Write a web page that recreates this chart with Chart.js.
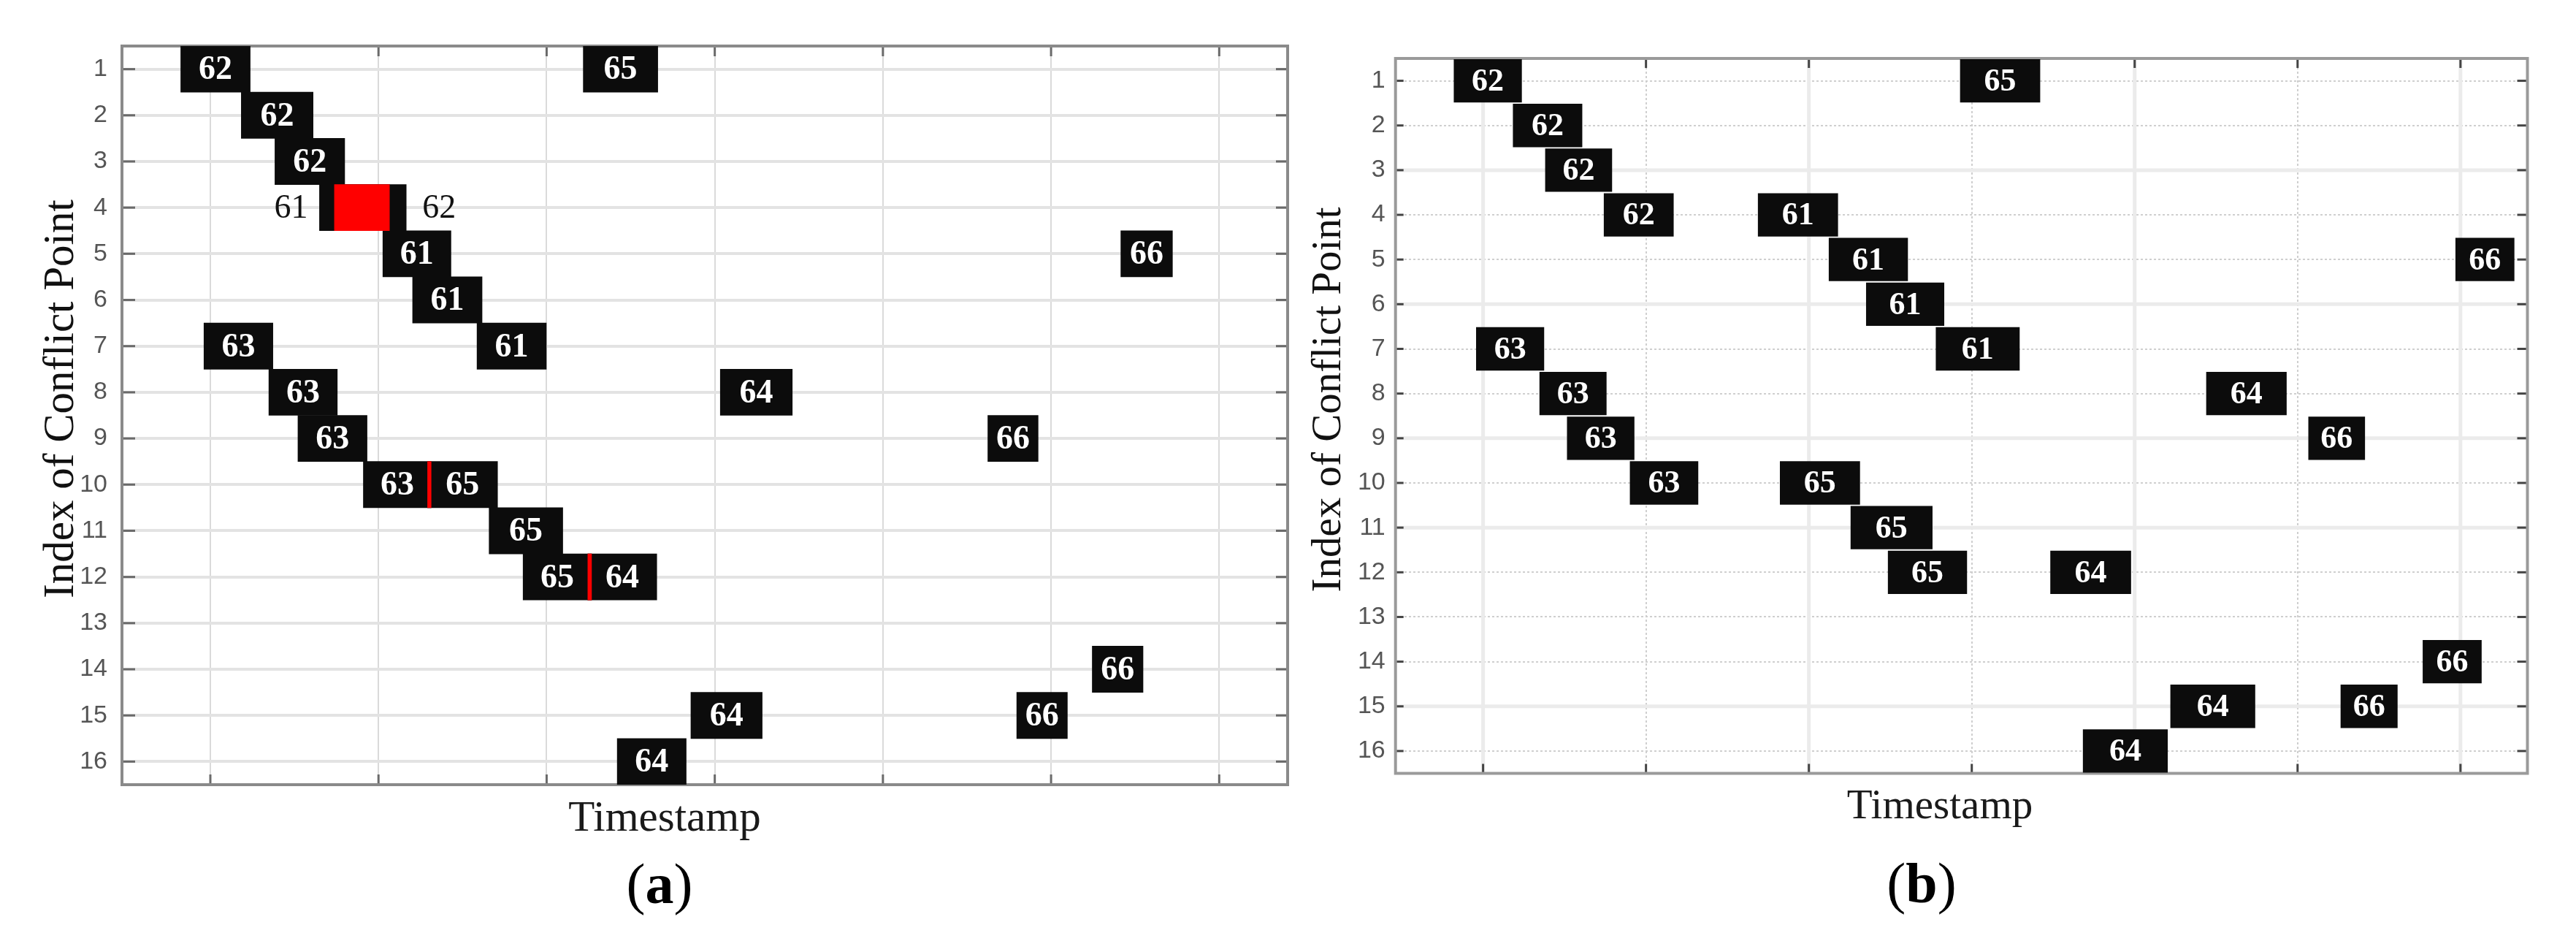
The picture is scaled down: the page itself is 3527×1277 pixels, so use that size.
<!DOCTYPE html>
<html><head><meta charset="utf-8">
<script src="https://cdn.jsdelivr.net/npm/chart.js@4/dist/chart.umd.min.js"></script>
<style>
html,body{margin:0;padding:0;background:#fff;}
#wrap{position:relative;width:3527px;height:1277px;overflow:hidden;background:#fff;}
.pane{position:absolute;top:0;height:1277px;}
#pa{left:0;width:1790px;}
#pb{left:1770px;width:1757px;}
canvas{display:block;}
</style></head><body>
<div id="wrap">
<div class="pane" id="pa"><canvas id="ca" width="1790" height="1277"></canvas></div>
<div class="pane" id="pb"><canvas id="cb" width="1757" height="1277"></canvas></div>
</div>
<script>
// ---------- shared categories / ticks ----------
const conflictPoints = ['1','2','3','4','5','6','7','8','9','10','11','12','13','14','15','16'];
const timeGrid = [10, 20, 30, 40, 50, 60, 70];

// ---------- panel (a) ----------
const aRow     = [1, 1, 2, 3, 4, 4, 5, 5, 6, 7, 7, 8, 8, 9, 9, 10, 10, 11, 12, 12, 14, 15, 15, 16];
const aVehicle = ['62','65','62','62','61','62','61','66','61','63','61','63','64','63','66','63','65','65','65','64','66','64','66','64'];
const aStart   = [8.24, 32.18, 11.84, 13.84, 16.49, 17.38, 20.26, 64.15, 22.03, 9.62, 25.86, 13.48, 40.33, 15.21, 56.24, 19.10, 22.92, 26.58, 28.60, 32.45, 62.45, 38.58, 57.96, 34.20];
const aEnd     = [12.37, 36.61, 16.11, 17.99, 20.65, 21.65, 24.31, 67.22, 26.16, 13.72, 29.98, 17.55, 44.61, 19.32, 59.23, 23.13, 27.08, 30.96, 32.67, 36.55, 65.47, 42.82, 60.97, 38.30];
const aLabelAt = ['in','in','in','in','left','right','in','in','in','in','in','in','in','in','in','in','in','in','in','in','in','in','in','in'];
const aConflictRow   = [4, 10, 12];
const aConflictStart = [17.38, 22.92, 32.45];
const aConflictEnd   = [20.65, 23.13, 32.67];

// ---------- panel (b) ----------
const bRow     = [1, 1, 2, 3, 4, 4, 5, 5, 6, 7, 7, 8, 8, 9, 9, 10, 10, 11, 12, 12, 14, 15, 15, 16];
const bVehicle = ['62','65','62','62','62','61','61','66','61','63','61','63','64','63','66','63','65','65','65','64','66','64','66','64'];
const bStart   = [8.20, 39.28, 11.83, 13.81, 17.41, 26.87, 31.22, 69.69, 33.51, 9.57, 37.79, 13.46, 54.39, 15.15, 60.66, 19.01, 28.22, 32.56, 34.85, 44.82, 67.68, 52.19, 62.64, 46.82];
const bEnd     = [12.38, 44.20, 16.09, 17.92, 21.70, 31.79, 36.08, 73.31, 38.31, 13.75, 42.94, 17.58, 59.33, 19.29, 64.14, 23.21, 33.14, 37.59, 39.71, 49.78, 71.30, 57.40, 66.14, 52.03];
const bLabelAt = bRow.map(() => 'in');
const bConflictRow = [], bConflictStart = [], bConflictEnd = [];

const solidRowsB = [3, 6, 9, 11, 15];
const solidTimesB = [10, 30, 50, 70];

function toBars(rows, s, e) {
  return rows.map((r, i) => ({ x: [s[i], e[i]], y: String(r) }));
}

function makePanel(cfg) {
  const canvas = document.getElementById(cfg.id);
  const ox = cfg.offsetX;

  const decorPlugin = {
    id: 'decor_' + cfg.id,
    beforeDatasetsDraw(chart) {
      const ctx = chart.ctx;
      const ca = chart.chartArea;
      const xs = chart.scales.x, ys = chart.scales.y;
      ctx.save();
      if (cfg.solidRows) {
        ctx.strokeStyle = '#ebebeb';
        ctx.lineWidth = 5;
        ctx.setLineDash([]);
        cfg.solidRows.forEach(r => {
          const py = ys.getPixelForValue(conflictPoints.indexOf(String(r)));
          ctx.beginPath(); ctx.moveTo(ca.left, py); ctx.lineTo(ca.right, py); ctx.stroke();
        });
        cfg.solidTimes.forEach(t => {
          const px = xs.getPixelForValue(t);
          ctx.beginPath(); ctx.moveTo(px, ca.top); ctx.lineTo(px, ca.bottom); ctx.stroke();
        });
      }
      // inward tick marks
      ctx.strokeStyle = cfg.tickColor;
      ctx.lineWidth = 3;
      ys.ticks.forEach((t, i) => {
        const py = ys.getPixelForTick(i);
        ctx.beginPath(); ctx.moveTo(ca.left, py); ctx.lineTo(ca.left + cfg.tickL, py); ctx.stroke();
        ctx.beginPath(); ctx.moveTo(ca.right, py); ctx.lineTo(ca.right - cfg.tickR, py); ctx.stroke();
      });
      xs.ticks.forEach((t, i) => {
        const px = xs.getPixelForTick(i);
        ctx.beginPath(); ctx.moveTo(px, ca.bottom); ctx.lineTo(px, ca.bottom - cfg.tickB); ctx.stroke();
        ctx.beginPath(); ctx.moveTo(px, ca.top); ctx.lineTo(px, ca.top + cfg.tickB); ctx.stroke();
      });
      // frame
      ctx.strokeStyle = cfg.frameColor;
      ctx.lineWidth = 4;
      ctx.strokeRect(ca.left, ca.top, ca.right - ca.left, ca.bottom - ca.top);
      ctx.restore();
    },
    afterDatasetsDraw(chart) {
      const ctx = chart.ctx;
      const meta = chart.getDatasetMeta(1);
      ctx.save();
      ctx.textBaseline = 'middle';
      meta.data.forEach((el, i) => {
        const x0 = Math.min(el.x, el.base), x1 = Math.max(el.x, el.base);
        const txt = cfg.vehicles[i];
        const side = cfg.labelAt[i];
        if (side === 'in') {
          ctx.fillStyle = '#ffffff';
          ctx.font = 'bold ' + cfg.boxFont + 'px "Liberation Serif"';
          ctx.textAlign = 'center';
          ctx.fillText(txt, (x0 + x1) / 2, el.y + 2);
        } else if (side === 'left') {
          ctx.fillStyle = '#111111';
          ctx.font = '46px "Liberation Serif"';
          ctx.textAlign = 'right';
          ctx.fillText(txt, x0 - 16, el.y + 2);
        } else {
          ctx.fillStyle = '#111111';
          ctx.font = '46px "Liberation Serif"';
          ctx.textAlign = 'left';
          ctx.fillText(txt, x1 + 22, el.y + 2);
        }
      });
      ctx.restore();
    },
    afterDraw(chart) {
      const ctx = chart.ctx;
      ctx.save();
      // y-axis title
      ctx.fillStyle = '#111111';
      ctx.font = cfg.yTitleSize + 'px "Liberation Serif"';
      ctx.textAlign = 'center';
      ctx.textBaseline = 'alphabetic';
      ctx.save();
      ctx.translate(cfg.yTitleX - ox, cfg.yTitleY);
      ctx.rotate(-Math.PI / 2);
      ctx.fillText('Index of Conflict Point', 0, 0);
      ctx.restore();
      // x-axis title
      ctx.font = cfg.xTitleSize + 'px "Liberation Serif"';
      ctx.fillStyle = '#1a1a1a';
      ctx.fillText('Timestamp', cfg.xTitleX - ox, cfg.xTitleY);
      // panel letter (bold letter, regular parentheses)
      const fs = 78;
      const fReg = fs + 'px "Liberation Serif"';
      const fBold = 'bold ' + fs + 'px "Liberation Serif"';
      ctx.fillStyle = '#000000';
      ctx.font = fReg; const wo = ctx.measureText('(').width; const wc = ctx.measureText(')').width;
      ctx.font = fBold; const wl = ctx.measureText(cfg.letter).width;
      let x = cfg.letterX - ox - (wo + wl + wc) / 2;
      ctx.textAlign = 'left';
      ctx.font = fReg; ctx.fillText('(', x, cfg.letterY); x += wo;
      ctx.font = fBold; ctx.fillText(cfg.letter, x, cfg.letterY); x += wl;
      ctx.font = fReg; ctx.fillText(')', x, cfg.letterY);
      ctx.restore();
    }
  };

  return new Chart(canvas, {
    type: 'bar',
    data: {
      labels: conflictPoints,
      datasets: [
        {
          label: 'Conflict overlap',
          data: toBars(cfg.cRow, cfg.cStart, cfg.cEnd),
          backgroundColor: '#ff0000',
          order: 0
        },
        {
          label: 'Occupancy',
          data: toBars(cfg.rows, cfg.start, cfg.end),
          backgroundColor: '#0c0c0c',
          order: 1
        }
      ]
    },
    options: {
      indexAxis: 'y',
      responsive: false,
      animation: false,
      devicePixelRatio: 1,
      datasets: {
        bar: {
          grouped: false,
          barPercentage: cfg.barPct,
          categoryPercentage: 1,
          borderWidth: 0,
          borderSkipped: false
        }
      },
      layout: { padding: { left: 0, top: cfg.padTop, right: cfg.padRight, bottom: 0 } },
      plugins: { legend: { display: false }, tooltip: { enabled: false }, title: { display: false } },
      scales: {
        x: {
          type: 'linear',
          min: cfg.xMin,
          max: cfg.xMax,
          afterBuildTicks: s => { s.ticks = timeGrid.map(v => ({ value: v })); },
          afterFit: s => { s.height = cfg.xAxisH; },
          ticks: { display: false },
          grid: { color: cfg.vGridColor, lineWidth: cfg.vGridW, drawTicks: false },
          border: { display: false, dash: cfg.dash }
        },
        y: {
          type: 'category',
          labels: conflictPoints,
          offset: true,
          afterFit: s => { s.width = cfg.yAxisW; },
          ticks: {
            font: { family: '"Liberation Sans"', size: 34 },
            color: '#555555',
            padding: cfg.yPad
          },
          grid: { offset: false, color: cfg.hGridColor, lineWidth: cfg.hGridW, drawTicks: false },
          border: { display: false, dash: cfg.dash }
        }
      }
    },
    plugins: [decorPlugin]
  });
}

makePanel({
  id: 'ca', offsetX: 0, letter: 'a',
  rows: aRow, start: aStart, end: aEnd, vehicles: aVehicle, labelAt: aLabelAt,
  cRow: aConflictRow, cStart: aConflictStart, cEnd: aConflictEnd,
  xMin: 4.744, xMax: 74.07,
  padTop: 63, padRight: 27, yAxisW: 167, xAxisH: 203, yPad: 20,
  barPct: 1.0, boxFont: 46,
  hGridColor: '#e3e3e3', hGridW: 4, vGridColor: '#dadada', vGridW: 2, dash: [],
  tickColor: '#6a6a6a', tickL: 18, tickR: 16, tickB: 14, frameColor: '#8a8a8a',
  yTitleX: 100, yTitleY: 546, yTitleSize: 59,
  xTitleX: 910, xTitleY: 1137, xTitleSize: 59,
  letterX: 903, letterY: 1236
});

makePanel({
  id: 'cb', offsetX: 1770, letter: 'b',
  rows: bRow, start: bStart, end: bEnd, vehicles: bVehicle, labelAt: bLabelAt,
  cRow: bConflictRow, cStart: bConflictStart, cEnd: bConflictEnd,
  xMin: 4.624, xMax: 74.11,
  padTop: 80, padRight: 66.5, yAxisW: 140.7, xAxisH: 218.5, yPad: 14,
  barPct: 0.97, boxFont: 44,
  hGridColor: '#cfcfcf', hGridW: 2, vGridColor: '#cfcfcf', vGridW: 2, dash: [3, 3],
  solidRows: solidRowsB, solidTimes: solidTimesB,
  tickColor: '#444444', tickL: 11, tickR: 14, tickB: 13, frameColor: '#9a9a9a',
  yTitleX: 1835, yTitleY: 547, yTitleSize: 57,
  xTitleX: 2656, xTitleY: 1120, xTitleSize: 57,
  letterX: 2631, letterY: 1235
});
</script>
</body></html>
